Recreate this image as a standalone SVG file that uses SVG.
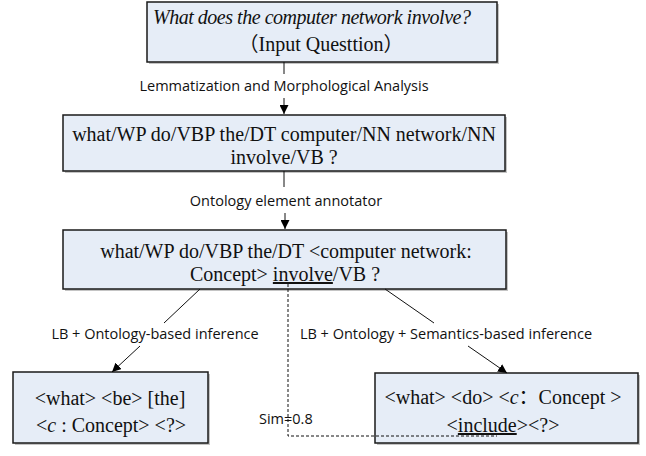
<svg xmlns="http://www.w3.org/2000/svg" width="646" height="456" viewBox="0 0 646 456">
<defs>
<marker id="ah" viewBox="0 0 10 10" refX="10" refY="5" markerWidth="9" markerHeight="9" markerUnits="userSpaceOnUse" orient="auto">
<path d="M0,0 L10,5 L0,10 z" fill="#000"/>
</marker>
<style>
.box{fill:#E6EDF7;stroke:#1a1a1a;stroke-width:1.5}
.shadow{fill:#c4c4c4}
.t{font-family:"Liberation Serif","Noto Sans CJK SC",serif;font-size:20px;fill:#111}
.lbl{font-family:"Open Sans","Noto Sans",sans-serif;font-size:14.5px;fill:#111}
.ln{stroke:#111;stroke-width:1;fill:none}
.dash{stroke:#111;stroke-width:1;fill:none;stroke-dasharray:3,2}
</style>
</defs>
<rect width="646" height="456" fill="#fff"/>
<g id="node-input">
<rect class="shadow" x="149" y="4" width="350" height="60"/>
<rect class="box" x="147" y="2" width="350" height="60"/>
<text class="t" x="153" y="24" font-size="17.5" font-style="italic" textLength="318" lengthAdjust="spacing">What does the computer network involve?</text>
<text class="t" x="321" y="51" font-size="18" text-anchor="middle">（Input Questtion）</text>
</g>
<g id="node-pos">
<rect class="shadow" x="65" y="117" width="442" height="56"/>
<rect class="box" x="63" y="115" width="442" height="56"/>
<text class="t" x="284" y="141" text-anchor="middle">what/WP do/VBP the/DT computer/NN network/NN</text>
<text class="t" x="284" y="164" text-anchor="middle">involve/VB ?</text>
</g>
<g id="node-annot">
<rect class="shadow" x="65" y="232" width="443" height="59"/>
<rect class="box" x="63" y="230" width="443" height="59"/>
<text class="t" x="286" y="258" text-anchor="middle">what/WP do/VBP the/DT &lt;computer network:</text>
<text class="t" x="285" y="281" text-anchor="middle">Concept&gt; <tspan text-decoration="underline">involve</tspan>/VB ?</text>
</g>
<g id="node-left">
<rect class="shadow" x="15" y="374" width="195" height="71"/>
<rect class="box" x="13" y="372" width="195" height="71"/>
<text class="t" x="110" y="405" text-anchor="middle">&lt;what&gt; &lt;be&gt; [the]</text>
<text class="t" x="111" y="432" text-anchor="middle">&lt;<tspan font-style="italic">c</tspan> : Concept&gt; &lt;?&gt;</text>
</g>
<g id="node-right">
<rect class="shadow" x="377" y="375" width="263" height="70"/>
<rect class="box" x="375" y="373" width="263" height="70"/>
<text class="t" x="503" y="404" text-anchor="middle">&lt;what&gt; &lt;do&gt; &lt;<tspan font-style="italic">c</tspan>：Concept &gt;</text>
<text class="t" x="503" y="432" text-anchor="middle">&lt;<tspan text-decoration="underline">include</tspan>&gt;&lt;?&gt;</text>
</g>
<g id="connectors">
<line class="ln" x1="284" y1="62" x2="284" y2="74"/>
<text class="lbl" x="284" y="91" text-anchor="middle">Lemmatization and Morphological Analysis</text>
<line class="ln" x1="284" y1="98" x2="284" y2="114" marker-end="url(#ah)"/>
<line class="ln" x1="284" y1="171" x2="284" y2="187"/>
<text class="lbl" x="286" y="206" text-anchor="middle">Ontology element annotator</text>
<line class="ln" x1="285" y1="213" x2="285" y2="229" marker-end="url(#ah)"/>
<line class="ln" x1="200" y1="289" x2="164" y2="323"/>
<text class="lbl" x="155" y="339" text-anchor="middle">LB + Ontology-based inference</text>
<line class="ln" x1="140" y1="346" x2="112" y2="372" marker-end="url(#ah)"/>
<line class="ln" x1="385" y1="289" x2="434" y2="323"/>
<text class="lbl" x="446" y="339" text-anchor="middle">LB + Ontology + Semantics-based inference</text>
<line class="ln" x1="468" y1="346" x2="507" y2="373" marker-end="url(#ah)"/>
<polyline class="dash" points="288,284 288,436 497,436"/>
<text class="lbl" x="259" y="424">Sim=0.8</text>
</g>
</svg>
